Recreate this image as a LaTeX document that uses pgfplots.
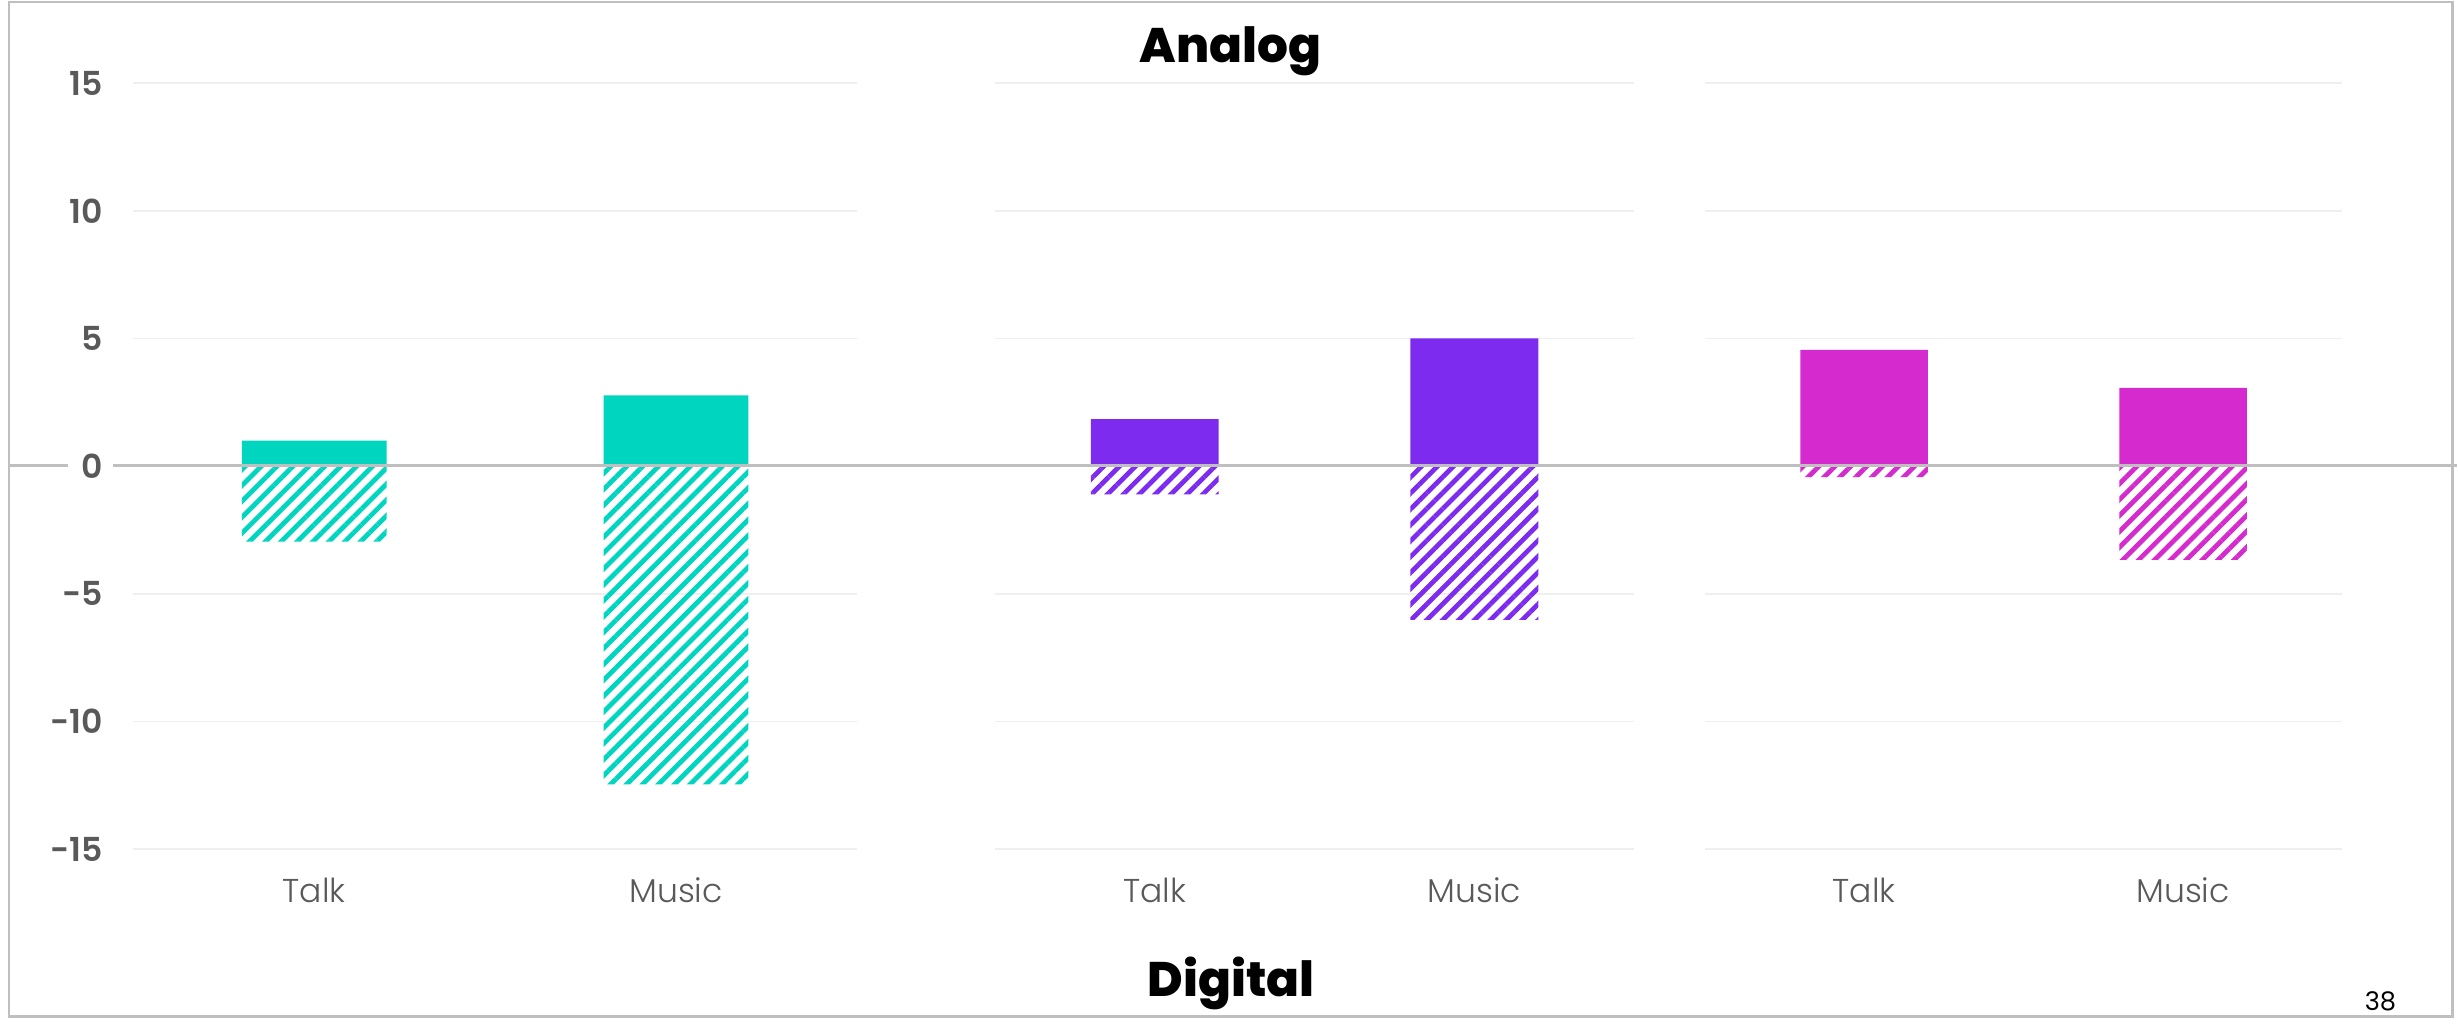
\documentclass[border=0pt]{standalone}
\usepackage{fontspec}
\setmainfont{Poppins}
\newfontfamily\titlefont{Poppins ExtraBold}
\newfontfamily\lightfont{Poppins Light}
\newfontfamily\semifont{Poppins SemiBold}
\usepackage{pgfplots}
\pgfplotsset{compat=1.18}
\usetikzlibrary{patterns.meta}

\definecolor{cteal}{HTML}{00D5BF}
\definecolor{cpurple}{HTML}{7C2BEF}
\definecolor{cmagenta}{HTML}{D42ACE}
\definecolor{txtgray}{HTML}{595959}
\definecolor{gridgray}{HTML}{EFEFEF}
\definecolor{linegray}{HTML}{BFBFBF}

\pgfplotsset{
  panel/.style={
    scale only axis,
    height=7.666cm,
    anchor=south west,
    ybar, bar shift=0pt, bar width=0.4,
    xmin=-0.5, xmax=1.5, ymin=-15, ymax=15,
    enlargelimits=false,
    xtick={0,1}, xticklabels={Talk,Music},
    ytick={-15,-10,...,15},
    ymajorgrids, grid style={gridgray, line width=0.45pt},
    axis line style={draw=none},
    tick style={draw=none},
    xticklabel style={anchor=base, yshift=-0.38cm,
      font=\lightfont\fontsize{9.4}{11}\selectfont, text=txtgray},
    yticklabel style={anchor=east, inner xsep=0.12cm,
      inner ysep=0.04cm, xshift=-0.18cm,
      font=\semifont\fontsize{9.4}{11}\selectfont, text=txtgray},
    /pgf/number format/assume math mode=true,
  },
  solid/.style={draw=none, fill=#1},
  hatch/.style={draw=none,
    pattern={Lines[angle=45, distance=3.2pt, line width=1.35pt]},
    pattern color=#1},
}

\begin{document}
\begin{tikzpicture}
  \path (0,0) rectangle (24.58,10.30);
  \draw[linegray, line width=0.7pt] (0.09,0.13) rectangle (24.54,10.28);

  \begin{axis}[panel, at={(1.333cm,1.803cm)}, width=7.242cm]
    \addplot[solid=cteal] coordinates {(0,1.0) (1,2.77)};
    \addplot[hatch=cteal] coordinates {(0,-2.95) (1,-12.46)};
  \end{axis}

  \begin{axis}[panel, at={(9.955cm,1.803cm)}, width=6.395cm, yticklabels={}]
    \addplot[solid=cpurple] coordinates {(0,1.84) (1,5.0)};
    \addplot[hatch=cpurple] coordinates {(0,-1.10) (1,-6.02)};
  \end{axis}

  \begin{axis}[panel, at={(17.057cm,1.803cm)}, width=6.38cm, yticklabels={}]
    \addplot[solid=cmagenta] coordinates {(0,4.55) (1,3.07)};
    \addplot[hatch=cmagenta] coordinates {(0,-0.43) (1,-3.67)};
  \end{axis}

  % zero line runs across the whole slide, broken round the "0" label
  \draw[linegray, line width=0.75pt] (0.10,5.644) -- (0.68,5.644);
  \draw[linegray, line width=0.75pt] (1.13,5.644) -- (24.58,5.644);

  \node[anchor=base, inner sep=0pt, font=\titlefont\fontsize{13.8}{16}\selectfont]
    at (12.31,9.67) {Analog};
  \node[anchor=base, inner sep=0pt, font=\titlefont\fontsize{13.8}{16}\selectfont]
    at (12.32,0.33) {Digital};
  \node[anchor=base east, inner sep=0pt, font=\fontsize{7.3}{9}\selectfont]
    at (23.98,0.19) {38};
\end{tikzpicture}
\end{document}
